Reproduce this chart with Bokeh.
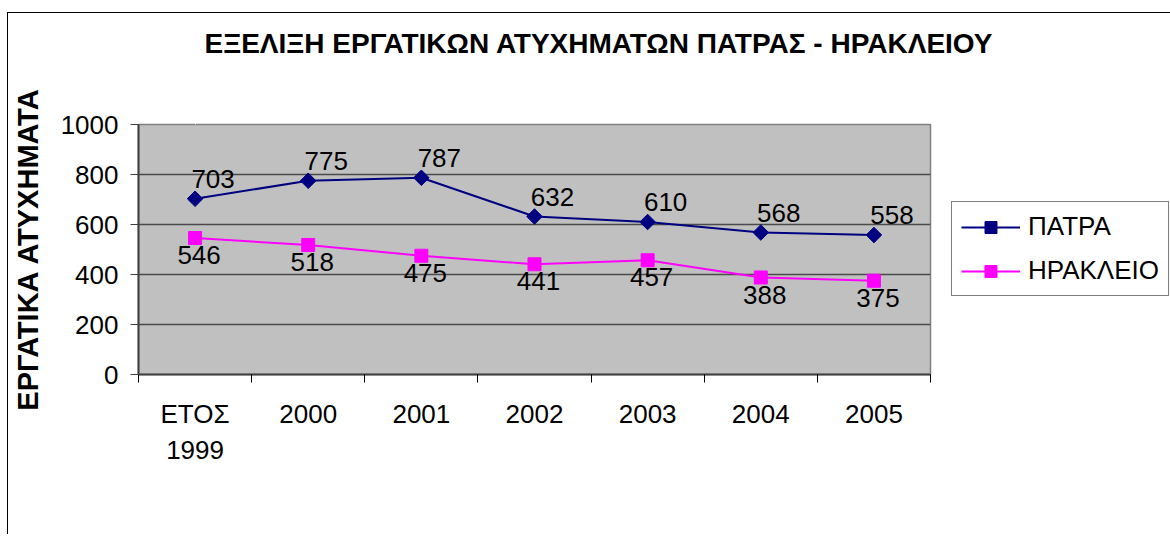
import math
from bokeh.plotting import figure
from bokeh.models import (ColumnDataSource, FixedTicker, LabelSet, Legend,
                          LegendItem, Range1d, LinearAxis, Title)
from bokeh.core.properties import value
from bokeh.embed import file_html
from bokeh.resources import INLINE

# ---- data ----
categories = ["ΕΤΟΣ\n1999", "2000", "2001", "2002", "2003", "2004", "2005"]
patra = [703, 775, 787, 632, 610, 568, 558]
irakleio = [546, 518, 475, 441, 457, 388, 375]
y_ticks = [0, 200, 400, 600, 800, 1000]
series_names = ["ΠΑΤΡΑ", "ΗΡΑΚΛΕΙΟ"]
title_text = "ΕΞΕΛΙΞΗ ΕΡΓΑΤΙΚΩΝ ΑΤΥΧΗΜΑΤΩΝ ΠΑΤΡΑΣ - ΗΡΑΚΛΕΙΟΥ"
y_label = "ΕΡΓΑΤΙΚΑ ΑΤΥΧΗΜΑΤΑ"

FONT = "Liberation Sans"
FS = "26px"
n = len(categories)
xs = [i + 0.5 for i in range(n)]
src = ColumnDataSource(dict(
    x=xs, patra=patra, irakleio=irakleio,
    pl=[str(v) for v in patra], il=[str(v) for v in irakleio]))

p = figure(frame_width=792, frame_height=250,
           x_range=Range1d(0, n), y_range=Range1d(0, 1000),
           output_backend="svg", toolbar_location=None,
           min_border_left=130, min_border_right=238,
           min_border_top=111, min_border_bottom=160,
           background_fill_color="#C0C0C0", border_fill_color="white",
           outline_line_color="#808080", outline_line_width=1.5,
           styles={"border-left": "1px solid black",
                   "border-top": "1px solid black",
                   "margin-top": "12px", "margin-left": "7px"})

# invisible (white-on-white) spacer axis between the frame and the title
spacer = LinearAxis(ticker=FixedTicker(ticks=[0.5]), axis_line_color=None,
                    major_tick_line_color="white", minor_tick_line_color=None,
                    major_tick_out=66, major_tick_in=0, minor_tick_out=0,
                    major_label_overrides={0.5: ""},
                    major_label_text_font_size="0px", major_label_standoff=0)
p.add_layout(spacer, "above")

# title
title = Title(text=title_text, text_font=FONT, text_font_size="28px",
              text_font_style="bold", text_color="black", align="left",
              offset=66, vertical_align="bottom", standoff=0)
p.add_layout(title, "above")

# grid
p.xgrid.visible = False
p.ygrid.ticker = FixedTicker(ticks=y_ticks)
p.ygrid.grid_line_color = "#4a4a4a"
p.ygrid.grid_line_width = 1.5

# x axis
xa = p.below[0]
xa.ticker = FixedTicker(ticks=xs, minor_ticks=list(range(n + 1)))
xa.major_label_overrides = {x: c for x, c in zip(xs, categories)}
xa.major_tick_line_color = None
xa.major_tick_out = 0
xa.major_tick_in = 0
xa.minor_tick_out = 8
xa.minor_tick_in = 0
xa.minor_tick_line_color = "black"
xa.axis_line_color = "#404040"
xa.axis_line_width = 2
xa.major_label_text_font = FONT
xa.major_label_text_font_size = FS
xa.major_label_text_color = "black"
xa.major_label_standoff = 16

# y axis
ya = p.left[0]
ya.ticker = FixedTicker(ticks=y_ticks)
ya.major_tick_out = 8
ya.major_tick_in = 0
ya.minor_tick_line_color = None
ya.axis_line_color = "#404040"
ya.axis_line_width = 2
ya.major_tick_line_color = "#404040"
ya.major_label_text_font = FONT
ya.major_label_text_font_size = FS
ya.major_label_text_color = "black"
ya.major_label_standoff = 12
ya.axis_label = y_label
ya.axis_label_text_font = FONT
ya.axis_label_text_font_size = "29px"
ya.axis_label_text_font_style = "bold"
ya.axis_label_text_color = "black"
ya.axis_label_standoff = 14

# series
l1 = p.line("x", "patra", source=src, line_color="#000080", line_width=2)
m1 = p.scatter("x", "patra", source=src, marker="square", angle=math.pi / 4,
               size=11, fill_color="#000080", line_color="#000080")
l2 = p.line("x", "irakleio", source=src, line_color="#FF00FF", line_width=2)
m2 = p.scatter("x", "irakleio", source=src, marker="square", size=13,
               fill_color="#FF00FF", line_color="#FF00FF")

lab_kw = dict(source=src, text_align="center", text_baseline="middle",
              text_font=value(FONT), text_font_size=FS, text_color="black")
p.add_layout(LabelSet(x="x", y="patra", text="pl", x_offset=18, y_offset=20, **lab_kw))
p.add_layout(LabelSet(x="x", y="irakleio", text="il", x_offset=4, y_offset=-17, **lab_kw))

legend = Legend(items=[LegendItem(label=series_names[0], renderers=[l1, m1]),
                       LegendItem(label=series_names[1], renderers=[l2, m2])],
                location=(21, 78), orientation="vertical",
                glyph_width=59, glyph_height=30, label_standoff=8,
                spacing=13, padding=9, margin=0,
                label_text_font=FONT, label_text_font_size=FS,
                label_text_color="black",
                border_line_color="black", border_line_width=1,
                background_fill_color="white", background_fill_alpha=1)
p.add_layout(legend, "right")

open("out.html", "w").write(file_html(p, INLINE))
